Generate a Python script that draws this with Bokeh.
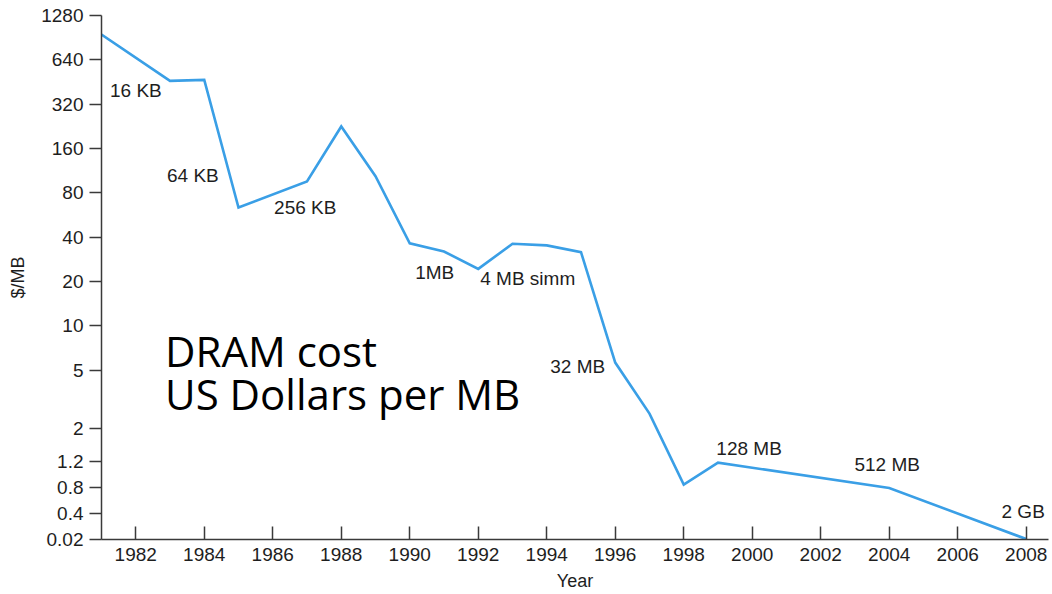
import math
from bokeh.plotting import figure
from bokeh.models import FixedTicker, Label, Range1d, ColumnDataSource
from bokeh.embed import file_html
from bokeh.resources import INLINE

# ---- data ----
years = [1981, 1983, 1984, 1985, 1987, 1988, 1989, 1990, 1991, 1992, 1993,
         1994, 1995, 1996, 1997, 1998, 1999, 2004, 2008]
cost_per_mb = [950, 461, 468, 63.6, 95.5, 226, 103.8, 36.4, 32, 24.4, 36.1,
               35.2, 31.7, 5.64, 2.54, 0.838, 1.18, 0.79, 0.021]
y_tick_values = [1280, 640, 320, 160, 80, 40, 20, 10, 5, 2, 1.2, 0.8, 0.4, 0.02]
y_tick_labels = ["1280", "640", "320", "160", "80", "40", "20", "10", "5", "2",
                 "1.2", "0.8", "0.4", "0.02"]
x_tick_years = list(range(1982, 2009, 2))
chip_labels = ["16 KB", "64 KB", "256 KB", "1MB", "4 MB simm", "32 MB",
               "128 MB", "512 MB", "2 GB"]

# ---- axis transform: log2 above 0.8, compressed below (as in the original) ----
SQ = 0.586  # compressed height of the bottom segments, in doublings


def ypos(v):
    if v >= 0.8:
        u = math.log2(v)
    elif v >= 0.4:
        u = math.log2(0.8) - SQ * math.log(0.8 / v) / math.log(2)
    else:
        u = math.log2(0.8) - SQ - SQ * math.log(0.4 / v) / math.log(20)
    return 1000.0 * u


tick_pos = [int(round(ypos(v))) for v in y_tick_values]

p = figure(width=1052, height=594, output_backend="svg", toolbar_location=None,
           x_range=Range1d(1981, 2008.65),
           y_range=Range1d(tick_pos[-1], tick_pos[0]),
           min_border_left=101, min_border_right=4, min_border_top=15,
           min_border_bottom=55)
p.outline_line_color = None
p.grid.visible = False
p.background_fill_color = "white"
p.border_fill_color = "white"

src = ColumnDataSource(dict(x=years, y=[ypos(v) for v in cost_per_mb]))
p.line("x", "y", source=src, line_color="#3a9fe6", line_width=2.6,
       line_join="miter")

AX = "#3a3a3a"
TXT = "#1e1e1e"
FONT = "Liberation Sans"

# x axis
xa = p.xaxis[0]
xa.ticker = FixedTicker(ticks=x_tick_years)
xa.minor_tick_line_color = None
xa.major_tick_in = 13
xa.major_tick_out = 0
xa.major_tick_line_color = AX
xa.major_tick_line_width = 1.5
xa.axis_line_color = AX
xa.axis_line_width = 1.5
xa.major_label_text_font = FONT
xa.major_label_text_font_size = "19px"
xa.major_label_text_color = TXT
xa.major_label_standoff = 8
xa.axis_label = "Year"
xa.axis_label_text_font = FONT
xa.axis_label_text_font_size = "18px"
xa.axis_label_text_font_style = "normal"
xa.axis_label_text_color = TXT
xa.axis_label_standoff = 7

# y axis
ya = p.yaxis[0]
ya.ticker = FixedTicker(ticks=tick_pos)
ya.major_label_overrides = {tp: lab for tp, lab in zip(tick_pos, y_tick_labels)}
ya.minor_tick_line_color = None
ya.major_tick_in = 0
ya.major_tick_out = 12
ya.major_tick_line_color = AX
ya.major_tick_line_width = 1.5
ya.axis_line_color = AX
ya.axis_line_width = 1.5
ya.major_label_text_font = FONT
ya.major_label_text_font_size = "19px"
ya.major_label_text_color = TXT
ya.major_label_standoff = 6
ya.axis_label = "$/MB"
ya.axis_label_text_font = FONT
ya.axis_label_text_font_size = "18px"
ya.axis_label_text_font_style = "normal"
ya.axis_label_text_color = TXT
ya.axis_label_standoff = 10

# helpers to convert reference pixel guesses for annotation placement
PX_PER_YEAR = 34.23
PX_PER_UNIT = 44.35 / 1000.0


def ax(px):
    return 1981 + (px - 101.5) / PX_PER_YEAR


def ay(py):
    return tick_pos[0] - (py - 15) / PX_PER_UNIT


label_px = [(110, 90), (167, 175), (274, 207), (415, 272), (480, 278),
            (550, 366), (716, 448), (854, 464), (1001, 511)]
for txt, (lx, ly) in zip(chip_labels, label_px):
    p.add_layout(Label(x=ax(lx), y=ay(ly), text=txt, text_font=FONT,
                       text_font_size="19px", text_color=TXT,
                       text_align="left", text_baseline="middle"))

for txt, ly in [("DRAM cost", 350), ("US Dollars per MB", 393)]:
    p.add_layout(Label(x=ax(165), y=ay(ly), text=txt, text_font="Open Sans",
                       text_font_size="42px", text_color="#000000",
                       text_align="left", text_baseline="middle"))

open("out.html", "w").write(file_html(p, INLINE))
